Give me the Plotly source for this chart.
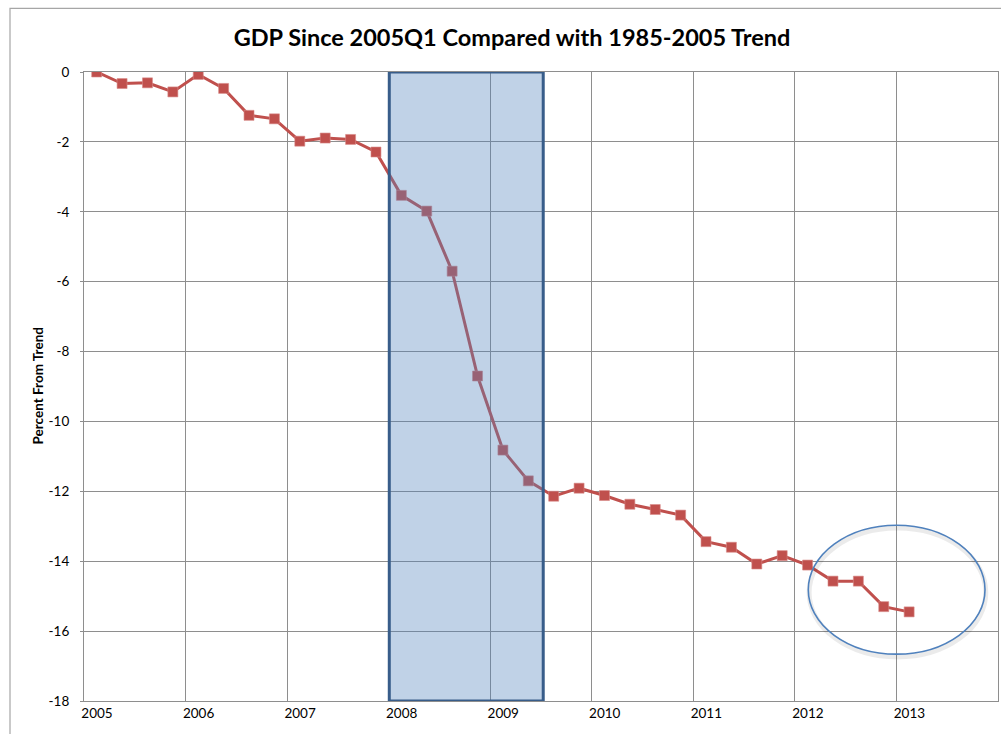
import plotly.graph_objects as go

# ---- data ----
quarters = [
    "2005Q1", "2005Q2", "2005Q3", "2005Q4",
    "2006Q1", "2006Q2", "2006Q3", "2006Q4",
    "2007Q1", "2007Q2", "2007Q3", "2007Q4",
    "2008Q1", "2008Q2", "2008Q3", "2008Q4",
    "2009Q1", "2009Q2", "2009Q3", "2009Q4",
    "2010Q1", "2010Q2", "2010Q3", "2010Q4",
    "2011Q1", "2011Q2", "2011Q3", "2011Q4",
    "2012Q1", "2012Q2", "2012Q3", "2012Q4",
    "2013Q1",
]
pct_from_trend = [
    0.00, -0.33, -0.31, -0.57,
    -0.07, -0.47, -1.24, -1.34,
    -1.98, -1.89, -1.93, -2.29,
    -3.53, -3.98, -5.70, -8.70,
    -10.82, -11.70, -12.14, -11.91,
    -12.12, -12.37, -12.52, -12.68,
    -13.44, -13.60, -14.08, -13.84,
    -14.11, -14.57, -14.57, -15.30,
    -15.45,
]
year_ticks = [2005, 2006, 2007, 2008, 2009, 2010, 2011, 2012, 2013]
y_ticks = [0, -2, -4, -6, -8, -10, -12, -14, -16, -18]
recession_start = 2008.006   # shaded recession band (Dec 2007)
recession_end = 2009.522     # (mid 2009)

# quarter label -> mid-quarter decimal year
x_vals = [int(q[:4]) + (int(q[-1]) - 1) * 0.25 + 0.125 for q in quarters]

FONT = "Lato, 'Open Sans', sans-serif"
RED = "#C0504D"

fig = go.Figure()
fig.add_trace(go.Scatter(
    x=x_vals, y=pct_from_trend, mode="lines+markers",
    line=dict(color=RED, width=3),
    marker=dict(symbol="square", size=10, color=RED,
                line=dict(color="#D98C8A", width=0.6)),
    showlegend=False, hoverinfo="x+y",
))

shapes = [
    # outer chart border
    dict(type="rect", xref="paper", yref="paper",
         x0=(10 - 84) / 914, x1=1.03, y0=-0.08, y1=1 + (71.7 - 8) / 629.3,
         line=dict(color="#A6A6A6", width=1.2), fillcolor="rgba(0,0,0,0)",
         layer="below"),
    # recession band (semi transparent, over the line)
    dict(type="rect", xref="x", yref="y",
         x0=recession_start, x1=recession_end, y0=-18, y1=0,
         fillcolor="rgba(79,129,189,0.36)",
         line=dict(color="#385D8A", width=3), layer="above"),
    # ellipse shadow
    dict(type="circle", xref="x", yref="y",
         x0=2012.14, x1=2013.88, y0=-16.74, y1=-13.05,
         line=dict(color="rgba(0,0,0,0.08)", width=5), layer="above"),
    # ellipse
    dict(type="circle", xref="x", yref="y",
         x0=2012.132, x1=2013.872, y0=-16.66, y1=-12.97,
         line=dict(color="#4F81BD", width=1.6), layer="above"),
]

fig.update_layout(
    width=1001, height=734,
    margin=dict(l=84, r=3, t=72, b=33),
    paper_bgcolor="white", plot_bgcolor="white",
    font=dict(family=FONT, color="black", size=12),
    title=dict(text="<b>GDP Since 2005Q1 Compared with 1985-2005 Trend</b>",
               font=dict(family=FONT, size=23.5, color="black"),
               x=512 / 1001, xanchor="center", xref="container",
               y=1 - 38 / 734, yanchor="middle", yref="container"),
    shapes=shapes,
    annotations=[dict(text="<b>Percent From Trend</b>", textangle=-90,
                      xref="paper", yref="paper", x=(37 - 84) / 914, y=0.5,
                      xanchor="center", yanchor="middle", showarrow=False,
                      font=dict(family=FONT, size=13.5, color="black"))],
)
fig.update_xaxes(
    range=[2005, 2014], tickmode="array", tickvals=year_ticks,
    ticktext=[str(y) for y in year_ticks], ticklabelshift=13,
    showgrid=True, gridcolor="#8E8E8E", gridwidth=1,
    showline=True, linecolor="#8E8E8E", linewidth=1, mirror=True,
    ticks="", zeroline=False, tickfont=dict(size=13.5),
)
fig.update_yaxes(
    range=[-18, 0], tickmode="array", tickvals=y_ticks,
    ticktext=[str(v) for v in y_ticks],
    showgrid=True, gridcolor="#8E8E8E", gridwidth=1,
    showline=True, linecolor="#8E8E8E", linewidth=1, mirror=True,
    ticks="outside", ticklen=3, tickcolor="#8E8E8E",
    ticklabelstandoff=8, zeroline=False, tickfont=dict(size=13.5),
)

fig.write_html("out.html")
